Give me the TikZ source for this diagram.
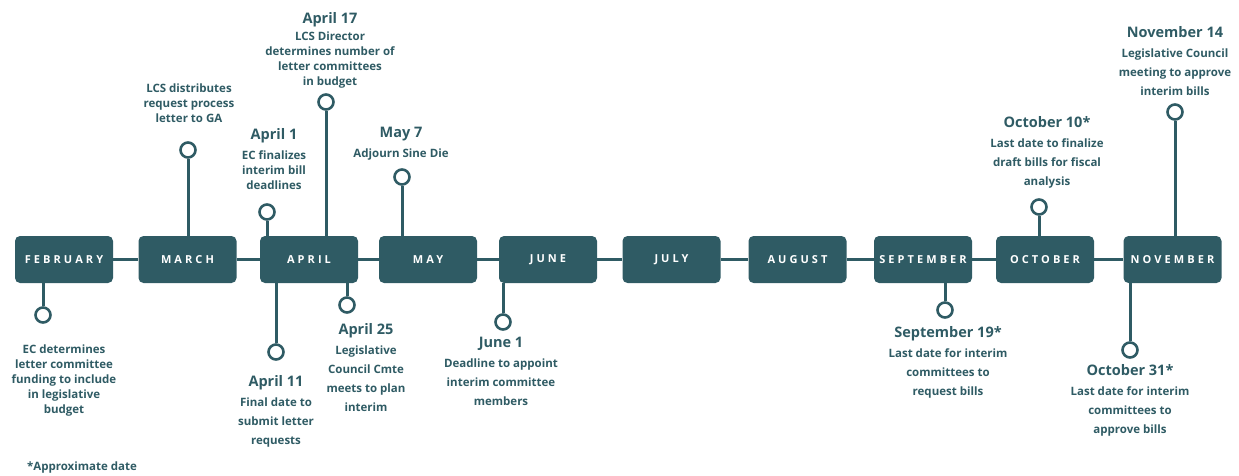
\documentclass[tikz,border=0pt]{standalone}
\usepackage{fontspec}
\setmainfont{Open Sans}
\newfontfamily\monthfont{Open Sans}[LetterSpace=28]
\definecolor{slate}{RGB}{47,91,100}

\tikzset{
  month/.style={fill=slate, rounded corners=5pt, minimum width=98pt, minimum height=47pt,
    inner xsep=5pt, text=white, font=\monthfont\bfseries\fontsize{11}{13}\selectfont},
  pin/.style={circle, draw=slate, line width=2.6pt, fill=white, minimum size=15pt, inner sep=0pt},
  link/.style={draw=slate, line width=3pt},
  evt/.style={text=slate, align=center, inner sep=0pt, anchor=north,
    font=\bfseries\fontsize{11.5}{15}\selectfont},
  evtwide/.style={evt, font=\bfseries\fontsize{11.5}{19}\selectfont},
}
\newcommand{\hd}[1]{{\fontsize{14.5}{15}\selectfont #1}}

\begin{document}
\begin{tikzpicture}[x=1pt, y=-1pt]
    \useasboundingbox (0,0) rectangle (1239,476);

    % Months
    \node[month] (feb) at (64,259.5)   {FEBRUARY};
    \node[month] (mar) at (187.5,259.5) {MARCH};
    \node[month] (apr) at (309,259.5)  {APRIL};
    \node[month] (may) at (428,259.5)  {MAY};
    \node[month] (jun) at (548,259.5)  {JUNE};
    \node[month] (jul) at (671.5,259.5) {JULY};
    \node[month] (aug) at (797.5,259.5) {AUGUST};
    \node[month] (sep) at (923,259.5)  {SEPTEMBER};
    \node[month] (oct) at (1045,259.5) {OCTOBER};
    \node[month] (nov) at (1172.5,259.5) {NOVEMBER};

    % Timeline links
    \foreach \a/\b in {feb/mar, mar/apr, apr/may, may/jun, jun/jul, jul/aug, aug/sep, sep/oct, oct/nov}
        \draw[link] (\a) -- (\b);

    % Event pins
    \node[pin] (pfeb)   at (43,315)   {};
    \node[pin] (pmar)   at (188,150)  {};
    \node[pin] (papra)  at (267,212)  {};
    \node[pin] (paprq)  at (326,102)  {};
    \node[pin] (paprk)  at (276,352)  {};
    \node[pin] (paprx)  at (347,305)  {};
    \node[pin] (pmay)   at (402,177)  {};
    \node[pin] (pjun)   at (503,322)  {};
    \node[pin] (psep)   at (945,310)  {};
    \node[pin] (poct)   at (1039,207) {};
    \node[pin] (poctb)  at (1130,350) {};
    \node[pin] (pnov)   at (1175,112) {};

    % Stems
    \draw[link] (pfeb) -- (pfeb |- feb.south);
    \draw[link] (pmar) -- (pmar |- mar.north);
    \draw[link] (papra) -- (papra |- apr.north);
    \draw[link] (paprq) -- (paprq |- apr.north);
    \draw[link] (paprk) -- (paprk |- apr.south);
    \draw[link] (paprx) -- (paprx |- apr.south);
    \draw[link] (pmay) -- (pmay |- may.north);
    \draw[link] (pjun) -- (pjun |- jun.south);
    \draw[link] (psep) -- (psep |- sep.south);
    \draw[link] (poct) -- (poct |- oct.north);
    \draw[link] (poctb) -- (poctb |- nov.south);
    \draw[link] (pnov) -- (pnov |- nov.north);

    % Event texts
    \node[evt] (tfeb) at (64,345) {EC determines\\letter committee\\funding to include\\in legislative\\budget};
    \node[evt] (tmar) at (189,84) {LCS distributes\\request process\\letter to GA};
    \node[evt] (tapra) at (274,128) {\hd{April 1}\\[5pt]EC finalizes\\interim bill\\deadlines};
    \node[evt] (taprq) at (330,12) {\hd{April 17}\\[2pt]LCS Director\\determines number of\\letter committees\\in budget};
    \node[evtwide] (taprk) at (276,375) {\hd{April 11}\\[1pt]Final date to\\submit letter\\requests};
    \node[evtwide] (taprx) at (366,323) {\hd{April 25}\\[1pt]Legislative\\Council Cmte\\meets to plan\\interim};
    \node[evt] (tmay) at (401,127) {\hd{May 7}\\[5pt]Adjourn Sine Die};
    \node[evtwide] (tjun) at (501,337) {\hd{June 1}\\[1pt]Deadline to appoint\\interim committee\\members};
    \node[evtwide] (tsep) at (948,326) {\hd{September 19*}\\[1pt]Last date for interim\\committees to\\request bills};
    \node[evtwide] (toct) at (1047,116) {\hd{October 10*}\\[1pt]Last date to finalize\\draft bills for fiscal\\analysis};
    \node[evtwide] (toctb) at (1130,364) {\hd{October 31*}\\[1pt]Last date for interim\\committees to\\approve bills};
    \node[evtwide] (tnov) at (1175,26) {\hd{November 14}\\[1pt]Legislative Council\\meeting to approve\\interim bills};

    \node[text=slate, font=\bfseries\fontsize{11.5}{15}\selectfont] (note) at (82,468) {*Approximate date};
\end{tikzpicture}
\end{document}
